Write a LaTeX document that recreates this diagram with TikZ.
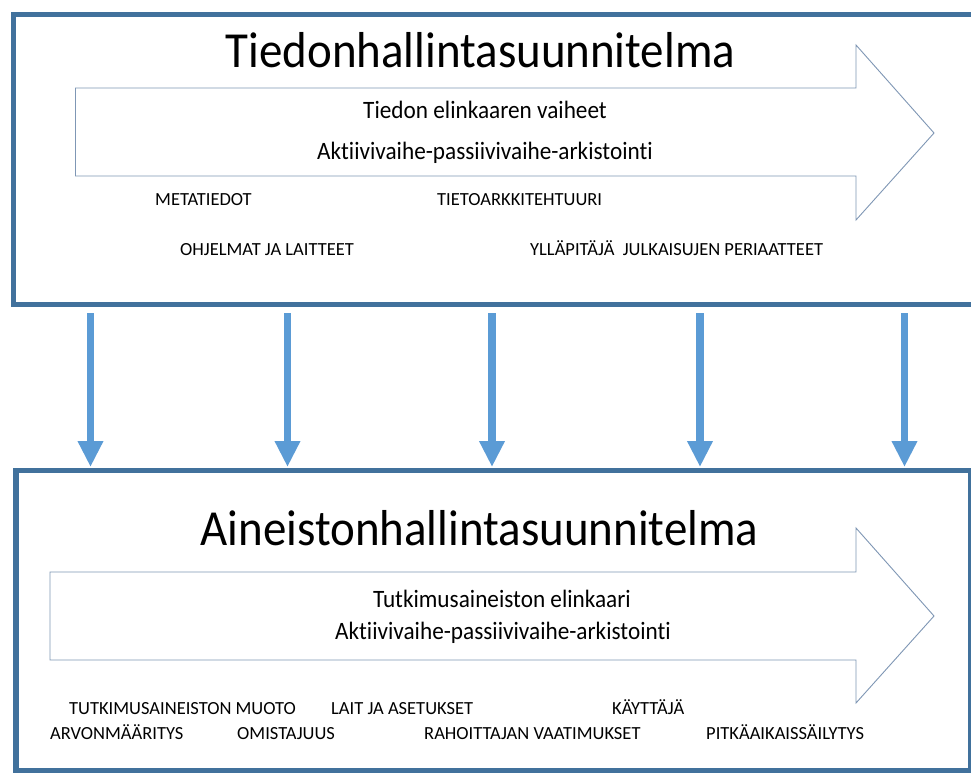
\documentclass[tikz,border=0pt]{standalone}
\usepackage{fontspec}
\setmainfont[Ligatures={NoCommon}]{Carlito}
\newfontfamily\condfont[Ligatures={NoCommon},FakeStretch=0.93]{Carlito}
\usetikzlibrary{arrows.meta}
\definecolor{boxblue}{HTML}{41719C}
\definecolor{arrblue}{HTML}{5B9BD5}
\definecolor{outline}{HTML}{7F97B5}
\begin{document}
\begin{tikzpicture}[x=1pt,y=-1pt,
  frame/.style={draw=boxblue,line width=5.5pt},
  bigarrow/.style={draw=outline,line width=0.9pt,fill=white,line join=miter},
  downarrow/.style={draw=arrblue,line width=7.5pt,-{Triangle[width=24pt,length=26pt]}},
  title/.style={font=\condfont\fontsize{50.5}{56}\selectfont,anchor=base,inner sep=0pt},
  mid/.style={font=\condfont\fontsize{25}{28}\selectfont,anchor=base,inner sep=0pt},
  small/.style={font=\fontsize{18.5}{21}\selectfont,anchor=base west,inner sep=0pt}]
\useasboundingbox (0,0) rectangle (971,772);
\clip (0,0) rectangle (971,772);
\fill[white] (0,0) rectangle (971,772);
% top box
\draw[frame] (13.5,14.5) rectangle (1000,304.5);
\draw[bigarrow] (75.5,88) -- (856,88) -- (856,45) -- (934,133) -- (856,220) -- (856,176) -- (75.5,176) -- cycle;
\node[title] (t1) at (480.5,67) {Tiedonhallintasuunnitelma};
\node[mid] (t2) at (485,118) {Tiedon elinkaaren vaiheet};
\node[mid] (t3) at (485,159) {Aktiivivaihe-passiivivaihe-arkistointi};
\node[small] (m1) at (155,205) {METATIEDOT};
\node[small] (m2) at (437,205) {TIETOARKKITEHTUURI};
\node[small] (m3) at (180,255) {OHJELMAT JA LAITTEET};
\node[small] (m4) at (530,255) {YLLÄPITÄJÄ\ \ JULKAISUJEN PERIAATTEET};
% bottom box
\draw[frame] (16,470.5) rectangle (970.5,770.5);
\draw[bigarrow] (50,572) -- (856,572) -- (856,528) -- (934,616) -- (856,703) -- (856,660) -- (50,660) -- cycle;
\node[title] (b1) at (479.5,545) {Aineistonhallintasuunnitelma};
\node[mid] (b2) at (502,607) {Tutkimusaineiston elinkaari};
\node[mid] (b3) at (503,639) {Aktiivivaihe-passiivivaihe-arkistointi};
\node[small] (n1) at (69,714) {TUTKIMUSAINEISTON MUOTO};
\node[small] (n2) at (331,714) {LAIT JA ASETUKSET};
\node[small] (n3) at (612,714) {KÄYTTÄJÄ};
\node[small] (n4) at (50,739) {ARVONMÄÄRITYS};
\node[small] (n5) at (237,739) {OMISTAJUUS};
\node[small] (n6) at (424,739) {RAHOITTAJAN VAATIMUKSET};
\node[small] (n7) at (706,739) {PITKÄAIKAISSÄILYTYS};
% down arrows
\foreach \i/\x in {1/90.5,2/287.5,3/492,4/700,5/904.5}{
  \coordinate (s\i) at (\x,313);
  \coordinate (e\i) at (\x,467);
  \draw[downarrow] (s\i) -- (e\i);
}
\end{tikzpicture}
\end{document}
